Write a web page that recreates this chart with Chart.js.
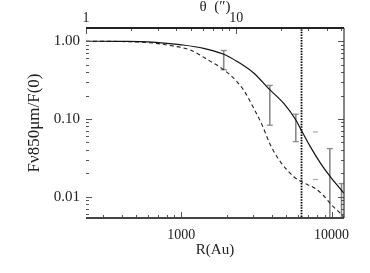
<!DOCTYPE html>
<html><head><meta charset="utf-8">
<script src="https://cdn.jsdelivr.net/npm/chart.js@4"></script>
<style>html,body{margin:0;padding:0;background:#fff;}canvas{display:block;}</style>
</head><body>
<canvas id="c" width="370" height="273"></canvas>
<script>
// ---- data ----
const solidR = [232, 400, 600, 845, 1000, 1408, 1915, 2350, 3031, 3815, 4809, 5800, 6207, 7235, 8430, 9830, 11740, 12100];
const solidF = [1.0, 0.995, 0.98, 0.93, 0.90, 0.81, 0.68, 0.55, 0.39, 0.245, 0.158, 0.096, 0.075, 0.0436, 0.027, 0.0179, 0.0118, 0.011];
const dashR = [232, 400, 600, 845, 1148, 1561, 1915, 2350, 2600, 2960, 3453, 3920, 4571, 5610, 6310, 7800, 8800, 10000, 11740, 12100];
const dashF = [1.0, 0.99, 0.96, 0.88, 0.77, 0.55, 0.43, 0.30, 0.235, 0.15, 0.083, 0.046, 0.028, 0.018, 0.0155, 0.0127, 0.0104, 0.0078, 0.0058, 0.0054];
const errR = [1915, 3880, 5780, 9740, 11650];
const errHi = [0.76, 0.27, 0.115, 0.0415, 0.0147];
const errLo = [0.43, 0.083, 0.051, 0.001, 0.001];
const capR = [7810, 7810];
const capF = [0.068, 0.0166];
const markerR = 6310;
const xTicks = [1000, 10000];
const yTicks = [0.01, 0.1, 1];
const thetaTicks = [1, 10];
const distPc = 232;
const xMin = 232, xMax = 12100, yMin = 0.0053, yMax = 1.48;

const pts = (xs, ys) => xs.map((x, i) => ({x: x, y: ys[i]}));
const GREY = '#8a8a8a';
const datasets = [
  {data: pts(solidR, solidF), borderColor: '#111', borderWidth: 1.2, pointRadius: 0, cubicInterpolationMode: 'monotone'},
  {data: pts(dashR, dashF), borderColor: '#222', borderWidth: 1.1, borderDash: [4, 3], pointRadius: 0, cubicInterpolationMode: 'monotone'},
  {data: [{x: markerR, y: 1e-4}, {x: markerR, y: 100}], borderColor: '#000', borderWidth: 1.8, borderDash: [1.5, 1.2], pointRadius: 0}
];
errR.forEach((r, i) => {
  datasets.push({data: [{x: r, y: errHi[i]}, {x: r, y: errLo[i]}], borderColor: GREY, borderWidth: 1.6,
    pointStyle: 'line', pointRadius: 3, pointBorderColor: GREY, pointBorderWidth: 1.3, pointHoverRadius: 0});
});
datasets.push({data: pts(capR, capF), showLine: false, pointStyle: 'line', pointRadius: 2.5, pointBorderColor: '#aaa', pointBorderWidth: 1.2});

const SERIF = '"Liberation Serif", "DejaVu Serif", serif';
const tickFont = {family: SERIF, size: 14};
const noGrid = {display: false, drawTicks: false};

const frame = {
  id: 'frame',
  afterDatasetsDraw(chart) {
    const ctx = chart.ctx, a = chart.chartArea;
    const xs = chart.scales.x, ys = chart.scales.y, ts = chart.scales.x2;
    ctx.save();
    ctx.strokeStyle = '#555'; ctx.lineWidth = 1;
    const mags = [];
    for (let e = -3; e <= 4; e++) for (let m = 1; m <= 9; m++) mags.push({v: m * Math.pow(10, e), major: m === 1});
    ctx.beginPath();
    mags.forEach(t => {
      const L = t.major ? 6 : 3;
      if (t.v >= xMin && t.v <= xMax) { const p = Math.round(xs.getPixelForValue(t.v)) + 0.5; ctx.moveTo(p, a.bottom); ctx.lineTo(p, a.bottom - L); }
      if (t.v >= ts.min && t.v <= ts.max) { const p = Math.round(ts.getPixelForValue(t.v)) + 0.5; ctx.moveTo(p, a.top); ctx.lineTo(p, a.top + L); }
      if (t.v >= yMin && t.v <= yMax) { const p = Math.round(ys.getPixelForValue(t.v)) + 0.5;
        ctx.moveTo(a.left, p); ctx.lineTo(a.left + L, p); ctx.moveTo(a.right, p); ctx.lineTo(a.right - L, p); }
    });
    ctx.stroke();
    ctx.lineWidth = 2; ctx.strokeStyle = '#222';
    ctx.beginPath(); ctx.moveTo(a.left, a.top); ctx.lineTo(a.right, a.top); ctx.stroke();
    ctx.strokeStyle = '#444';
    ctx.beginPath(); ctx.moveTo(a.left, a.bottom); ctx.lineTo(a.right, a.bottom); ctx.stroke();
    ctx.lineWidth = 1.2; ctx.strokeStyle = '#333';
    ctx.beginPath(); ctx.moveTo(a.right, a.top); ctx.lineTo(a.right, a.bottom); ctx.stroke();
    ctx.restore();
  }
};

new Chart(document.getElementById('c'), {
  type: 'line',
  data: {datasets: datasets},
  plugins: [frame],
  options: {
    responsive: false, animation: false, events: [],
    layout: {padding: {left: 0, right: 26, top: 0, bottom: 0}},
    plugins: {legend: {display: false}, tooltip: {enabled: false}},
    scales: {
      x: {type: 'logarithmic', position: 'bottom', min: xMin, max: xMax,
        grid: noGrid, border: {display: false},
        afterBuildTicks: s => { s.ticks = xTicks.map(v => ({value: v})); },
        afterFit: s => { s.height = 55; },
        ticks: {font: tickFont, color: '#222', padding: 9, maxRotation: 0, autoSkip: false, callback: v => String(v)},
        title: {display: true, text: 'R(Au)', font: {family: SERIF, size: 15}, color: '#222', padding: {bottom: 14}}
      },
      x2: {type: 'logarithmic', position: 'top', min: xMin / distPc, max: xMax / distPc,
        grid: noGrid, border: {display: false},
        afterBuildTicks: s => { s.ticks = thetaTicks.map(v => ({value: v})); },
        afterFit: s => { s.height = 28; },
        ticks: {font: tickFont, color: '#222', padding: 1, maxRotation: 0, autoSkip: false, callback: v => String(v)},
        title: {display: true, text: 'θ  (″)', font: {family: SERIF, size: 15, lineHeight: 1}, color: '#222', padding: {top: 0}}
      },
      y: {type: 'logarithmic', position: 'left', min: yMin, max: yMax,
        grid: noGrid, border: {display: false},
        afterBuildTicks: s => { s.ticks = yTicks.map(v => ({value: v})); },
        afterFit: s => { s.width = 86; },
        ticks: {font: {family: SERIF, size: 15}, color: '#222', padding: 6, autoSkip: false, callback: v => Number(v).toFixed(2)},
        title: {display: true, text: 'Fν850μm/F(0)', font: {family: SERIF, size: 17}, color: '#222', padding: {top: 24}}
      }
    }
  }
});
</script>
</body></html>
